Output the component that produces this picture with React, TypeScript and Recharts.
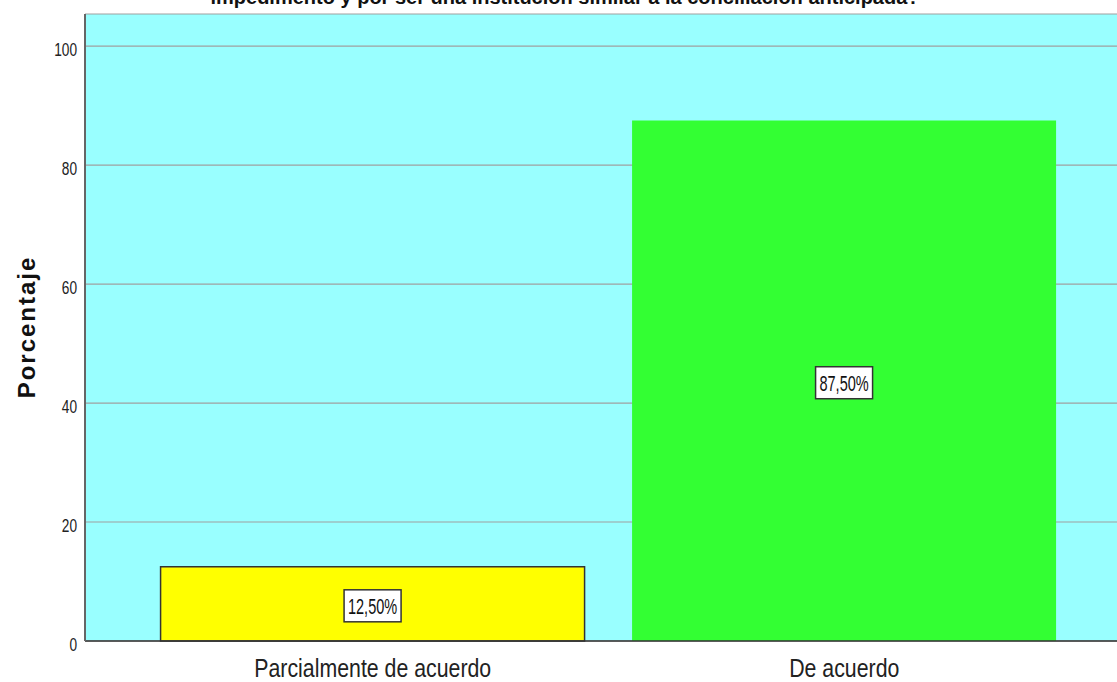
import { Bar, BarChart, CartesianGrid, Cell, LabelList, XAxis, YAxis } from 'recharts';

const categories = ['Parcialmente de acuerdo', 'De acuerdo'];
const percentages = [12.5, 87.5];
const barColors = ['#ffff00', '#33ff33'];
const barStrokes = ['#333333', 'none'];
const yTicks = [0, 20, 40, 60, 80, 100];
const title = 'impedimento y por ser una institución similar a la conciliación anticipada?';

const data = categories.map((name, i) => ({ name, value: percentages[i] }));

const sans = '"Liberation Sans", Arial, sans-serif';

// the source picture has tall, squeezed glyphs, so the text is scaled on x
function ValueBox(props: any) {
  const { x, y, width, height, value } = props;
  const cx = x + width / 2;
  const cy = y + height / 2 + 2;
  const text = value.toFixed(2).replace('.', ',') + '%';
  const w = 57;
  const h = 32;
  return (
    <g>
      <rect x={cx - w / 2} y={cy - h / 2} width={w} height={h} fill="#ffffff" stroke="#333333" strokeWidth={1.5} />
      <text transform={`translate(${cx},${cy + 8}) scale(0.66,1)`} textAnchor="middle" fontFamily={sans} fontSize={22} fill="#111">
        {text}
      </text>
    </g>
  );
}

function XTick(props: any) {
  const { x, y, payload } = props;
  return (
    <text transform={`translate(${x},${y + 28}) scale(0.82,1)`} textAnchor="middle" fontFamily={sans} fontSize={26} fill="#222">
      {payload.value}
    </text>
  );
}

function YTick(props: any) {
  const { x, y, payload } = props;
  return (
    <text transform={`translate(${x},${y + 10}) scale(0.72,1)`} textAnchor="end" fontFamily={sans} fontSize={19} fill="#222">
      {payload.value}
    </text>
  );
}

export default function App() {
  return (
    <div style={{ position: 'fixed', left: 0, top: 0, width: 1117, height: 682, background: '#fff' }}>
      <BarChart width={1117} height={682} data={data} margin={{ top: 14, right: 0, left: 0, bottom: 0 }} barCategoryGap="5%">
        <text x={565} y={4} textAnchor="middle" fontFamily={sans} fontWeight="bold" fontSize={20} fill="#111">
          {title}
        </text>
        <text transform="translate(35,327) rotate(-90)" textAnchor="middle" fontFamily={sans} fontWeight="bold" fontSize={24} letterSpacing={2} fill="#111">
          Porcentaje
        </text>
        <CartesianGrid fill="#99ffff" stroke="#a0a0a0" vertical={false} horizontal={true} strokeWidth={1.2} />
        <XAxis
          dataKey="name"
          height={41}
          padding={{ left: 52, right: 37 }}
          axisLine={{ stroke: '#333', strokeWidth: 1.5 }}
          tickLine={false}
          tick={<XTick />}
        />
        <YAxis
          width={85}
          domain={[0, 105.4]}
          ticks={yTicks}
          axisLine={{ stroke: '#666', strokeWidth: 2 }}
          tickLine={false}
          tick={<YTick />}
        />
        <Bar dataKey="value" isAnimationActive={false}>
          {data.map((d, i) => (
            <Cell key={d.name} fill={barColors[i]} stroke={barStrokes[i]} strokeWidth={1.5} />
          ))}
          <LabelList dataKey="value" content={<ValueBox />} />
        </Bar>
      </BarChart>
    </div>
  );
}
